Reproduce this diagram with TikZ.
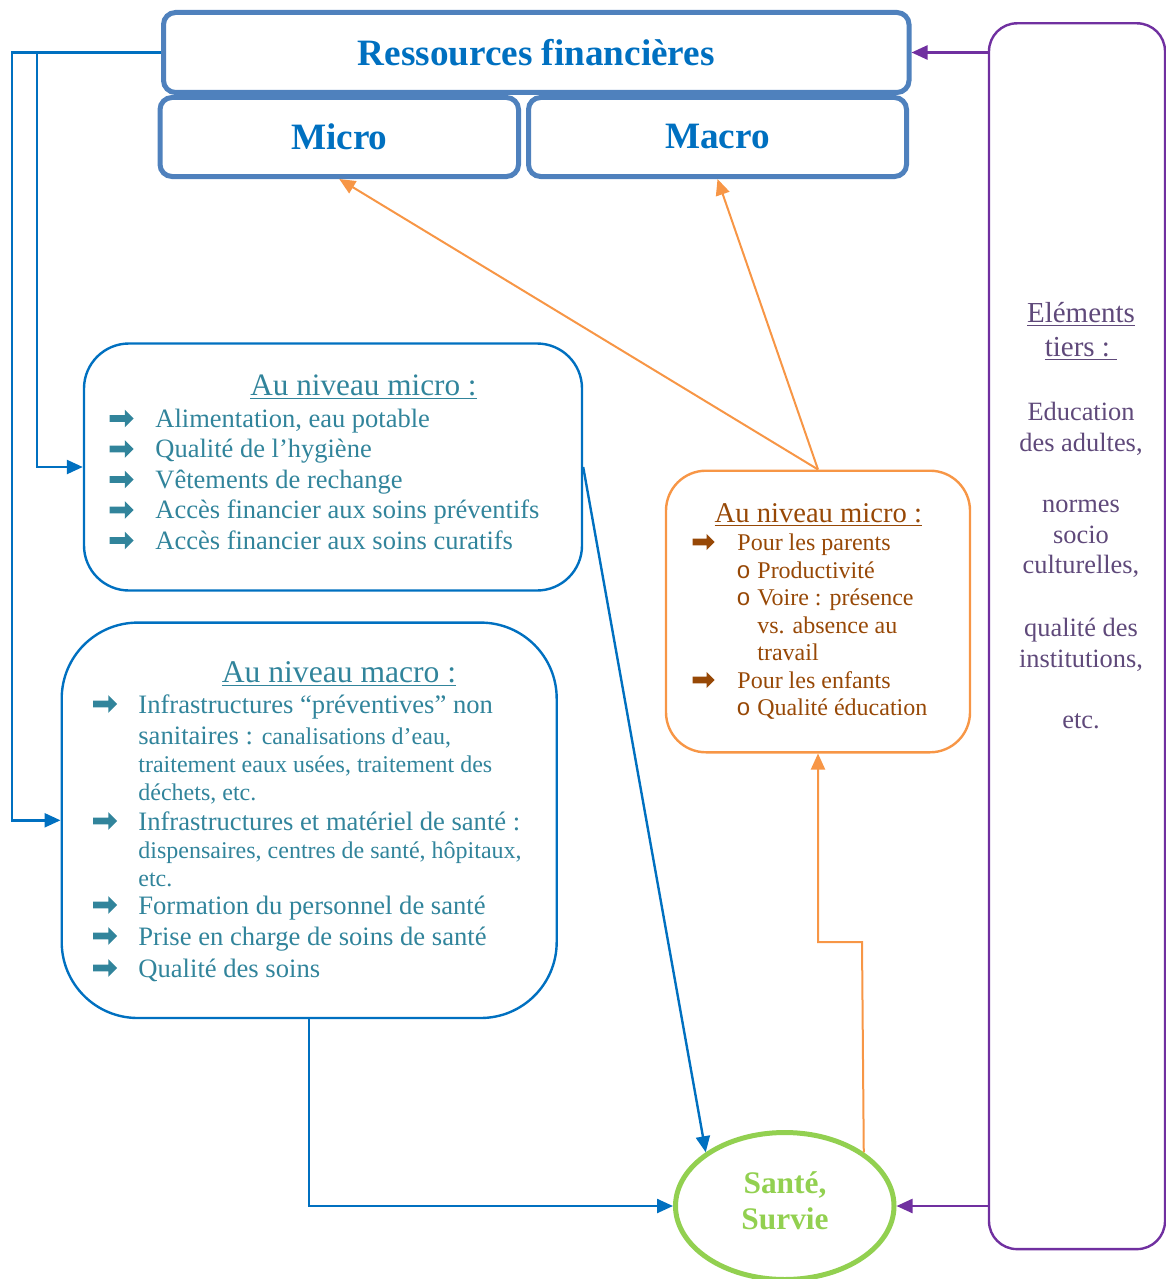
\documentclass[tikz,border=0pt]{standalone}
\usepackage{fontspec}
\setmainfont{Liberation Serif}
\setmonofont{Liberation Mono}
\usetikzlibrary{calc}
\usetikzlibrary{positioning}
\usetikzlibrary{arrows.meta}
\usetikzlibrary{shapes.geometric}
\usetikzlibrary{shapes.arrows}
\definecolor{frameblue}{RGB}{79,129,189}
\definecolor{blue}{RGB}{0,112,192}
\definecolor{teal}{RGB}{49,132,155}
\definecolor{orange}{RGB}{247,150,70}
\definecolor{brown}{RGB}{151,72,6}
\definecolor{purple}{RGB}{112,48,160}
\definecolor{mauve}{RGB}{95,73,122}
\definecolor{green}{RGB}{146,208,80}
\newcommand{\petit}{\fontsize{12}{14}\selectfont}

\begin{document}
\begin{tikzpicture}[x=0.5pt,y=-0.5pt,>={Triangle[length=8pt,width=7pt]},
  head/.style={draw=frameblue,line width=2.5pt,rounded corners=6pt,inner sep=0pt,text=blue,
    font=\fontsize{18.6}{22}\selectfont\bfseries},
  card/.style={line width=1.2pt,inner sep=0pt},
  txt/.style={inner sep=0pt,anchor=base west},
  ctr/.style={inner sep=0pt,anchor=base},
  puce/.style={single arrow,inner xsep=0pt,inner ysep=1.5pt,minimum height=12pt,
    single arrow head extend=2.75pt,single arrow head indent=0pt,draw=none}]

\useasboundingbox (0,0) rectangle (1166,1279);

% ressources
\node[head,minimum width=372.75pt,minimum height=40pt] (res) at (536.25,52.5) {Ressources financières};
\node[head,minimum width=179.25pt,minimum height=39.5pt] (micro) at (339.25,137) {Micro};
\node[head,minimum width=189pt,minimum height=39.5pt] (macro) at (717.5,137) {Macro};

% boites
\node[card,draw=blue,rounded corners=22.5pt,minimum width=249pt,minimum height=123.5pt] (mic) at (333,467) {};
\node[card,draw=blue,rounded corners=38pt,minimum width=247.5pt,minimum height=197.7pt] (mac) at (309.2,820.3) {};
\node[card,draw=orange,rounded corners=20pt,minimum width=152pt,minimum height=140.8pt] (ora) at (818,611.5) {};
\node[card,draw=purple,rounded corners=14pt,minimum width=88pt,minimum height=612.9pt] (ter) at (1077,636.2) {};
\node[draw=green,line width=2.5pt,ellipse,inner sep=0pt,minimum width=109.25pt,minimum height=73.5pt] (san) at (784.75,1206) {};
\node[ctr,text=green,align=center,font=\fontsize{15.7}{18}\selectfont\bfseries] (santxt) at (785,1229) {Santé,\\Survie};

% micro
\node[ctr,text=teal,font=\fontsize{15.6}{18}\selectfont] (mictit) at (363.5,395) {\underline{Au niveau micro :}};
\foreach \t [count=\i from 0] in {{Alimentation, eau potable},{Qualité de l’hygiène},{Vêtements de rechange},
  {Accès financier aux soins préventifs},{Accès financier aux soins curatifs}}{
  \node[puce,fill=teal] (mip\i) at (120,418.5+30.5*\i) {};
  \node[txt,text=teal,font=\fontsize{13.25}{15}\selectfont] (mit\i) at (155,427+30.5*\i) {\t};
}

% macro
\node[ctr,text=teal,font=\fontsize{15.8}{18}\selectfont] (mactit) at (339,682) {\underline{Au niveau macro :}};
\foreach \y [count=\i] in {713,830,914,945,977}
  \node[puce,fill=teal] (map\i) at (103.5,\y-9) {};
\foreach \y/\t [count=\i] in {713/{Infrastructures “préventives” non},744/{sanitaires : {\petit canalisations d’eau,}},
  772/{\petit traitement eaux usées, traitement des},800/{\petit déchets, etc.},
  830/{Infrastructures et matériel de santé :},858/{\petit dispensaires, centres de santé, hôpitaux,},
  886/{\petit etc.},914/{Formation du personnel de santé},945/{Prise en charge de soins de santé},977/{Qualité des soins}}
  \node[txt,text=teal,font=\fontsize{13.3}{15}\selectfont] (mat\i) at (138,\y) {\t};

% micro (orange)
\node[ctr,text=brown,font=\fontsize{14.3}{17}\selectfont] (oratit) at (818.3,522) {\underline{Au niveau micro :}};
\foreach \y [count=\i] in {550,688}
  \node[puce,fill=brown,minimum height=11pt,single arrow head extend=2.4pt] (orp\i) at (702,\y-8) {};
\foreach \y [count=\i] in {578,605,715}
  \node[txt,text=brown,font=\ttfamily\fontsize{12}{14}\selectfont] (oro\i) at (736,\y) {o};
\foreach \x/\y/\t [count=\i] in {737/550/{Pour les parents},757/578/{Productivité},757/605/{Voire : présence},
  757/633/{vs. absence au},757/660/{travail},737/688/{Pour les enfants},757/715/{Qualité éducation}}
  \node[txt,text=brown,font=\fontsize{12}{14}\selectfont] (ort\i) at (\x,\y) {\t};

% elements tiers
\node[ctr,text=mauve,font=\fontsize{14.5}{17}\selectfont] (tertit) at (1081,322) {\underline{Eléments}};
\node[ctr,text=mauve,font=\fontsize{14.5}{17}\selectfont] (tertit2) at (1081,356) {\underline{tiers :\ }};
\foreach \y/\t [count=\i] in {420/Education,451/{des adultes,},512/normes,543/socio,573/{culturelles,},
  636/{qualité des},667/{institutions,},728/{etc.}}
  \node[ctr,text=mauve,font=\fontsize{13.2}{15}\selectfont] (tert\i) at (1081,\y) {\t};

% fleches
\coordinate (c1) at (37,52.5);
\coordinate (c2) at (12,52.5);
\coordinate (c3) at (862,942);
\draw[blue,line width=1.2pt,->] (res.west) -- (c1) |- (mic.west);
\draw[blue,line width=1.2pt,->] (res.west) -- (c2) |- (mac.west);
\draw[blue,line width=1.2pt,->] (mic.east) -- (san.north west);
\draw[blue,line width=1.2pt,->] (mac.south) |- (san.west);
\draw[orange,line width=1pt,->] (ora.north) -- (micro.south);
\draw[orange,line width=1pt,->] (ora.north) -- (macro.south);
\draw[orange,line width=1pt,->] (san.north east) -- (c3) -| (ora.south);
\draw[purple,line width=1.2pt,->] (ter.west |- res.east) -- (res.east);
\draw[purple,line width=1.2pt,->] (ter.west |- san.east) -- (san.east);
\end{tikzpicture}
\end{document}
